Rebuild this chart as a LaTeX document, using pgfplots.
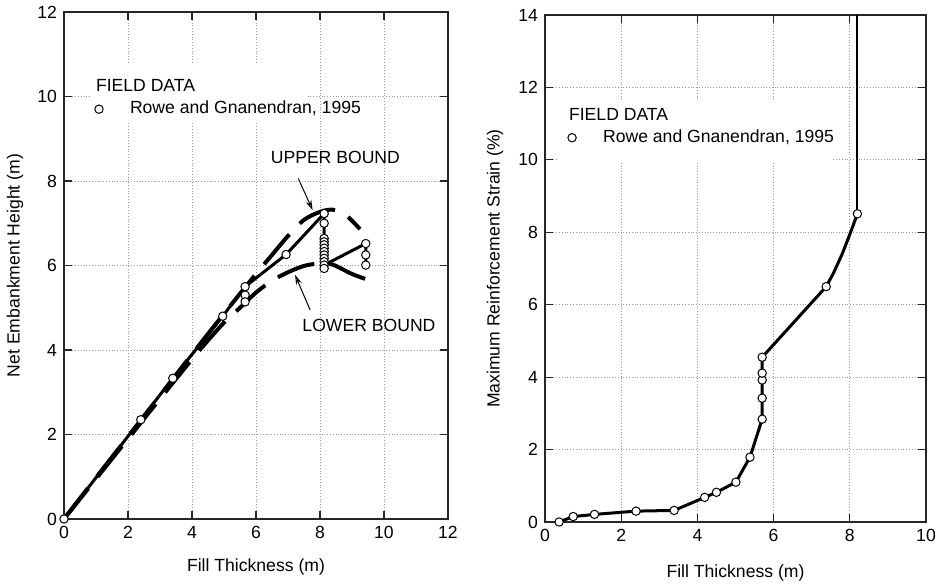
\documentclass[border=0pt]{standalone}
\usepackage{fontspec}
\setmainfont{Liberation Sans}
\usepackage{pgfplots}
\pgfplotsset{compat=1.18}
\usetikzlibrary{arrows.meta}

\pgfplotsset{
 panel/.style={scale only axis,anchor=south west,
  axis line style={black!85,line width=0.6pt},
  tick style={black!85,line width=0.6pt},
  major tick length=4pt,
  grid=major,grid style={densely dotted,black!40,line width=0.45pt},
  /pgf/number format/assume math mode=true,
  ylabel style={anchor=center},xlabel style={anchor=center},
  legend cell align=left,
  legend style={draw=none,fill=none,inner sep=0pt,column sep=13.4pt,row sep=3pt,
   nodes={inner sep=0pt,text height=6.4pt,text depth=1.6pt}},
 },
 bound/.style={black,line width=2pt,dash pattern=on 19.5pt off 7.5pt,smooth},
 data/.style={black,line width=1.5pt},
 circ/.style={only marks,mark=*,mark size=2.1pt,mark options={fill=white,draw=black,line width=0.5pt}},
 circleg/.style={legend image code/.code={\draw[##1] plot coordinates {(0pt,0pt)};}},
}

\begin{document}
\begin{tikzpicture}[font=\fontsize{8.8}{10.5}\selectfont]
\useasboundingbox (0pt,0pt) rectangle (469pt,292.5pt);

\begin{axis}[panel,at={(32pt,33pt)},width=192pt,height=253.5pt,
 xmin=0,xmax=12,ymin=0,ymax=12,xtick={0,2,...,12},ytick={0,2,...,12},
 xlabel={Fill Thickness (m)},ylabel={Net Embankment Height (m)},
 xlabel style={at={(axis description cs:0.5,-0.0947)}},
 ylabel style={at={(axis description cs:-0.1276,0.5)}},
 legend style={at={(axis cs:0.95,10.42)},anchor=north west}]
 \addlegendimage{empty legend}\addlegendentry{\hspace*{-17pt}FIELD DATA}
 \addlegendimage{circ,circleg}
 \addlegendentry{Rowe and Gnanendran, 1995}
 \fill[white] (axis cs:0.81,10.79) rectangle (axis cs:7.6,9.4);
 % field data path
 \addplot[data] coordinates {(0,0) (2.4,2.35) (3.4,3.33) (4.96,4.80) (5.66,5.50) (6.94,6.26)
  (8.13,7.23) (8.13,6.01) (9.43,6.52) (9.43,6.01)};
 \addplot[data] coordinates {(5.66,5.14) (5.66,5.50)};
 \addplot[circ] coordinates {(0,0) (2.4,2.35) (3.4,3.33) (4.96,4.80) (5.66,5.50) (5.66,5.30)
  (5.66,5.14) (6.94,6.26) (8.13,7.23) (8.13,7.00) (8.13,6.64) (8.13,6.56) (8.13,6.49)
  (8.13,6.41) (8.13,6.33) (8.13,6.25) (8.13,6.17) (8.13,6.09) (8.13,6.01) (8.13,5.93)
  (9.43,6.52) (9.43,6.25) (9.43,6.01)};
 % bounds
 \addplot[bound] coordinates {(0,0) (1,0.98) (2,1.95) (3,2.92) (4,3.9) (5,4.86) (6,5.8)
  (6.5,6.25) (7,6.7) (7.5,7.08) (8,7.27) (8.4,7.32) (8.8,7.2) (9.25,6.86)};
 \addplot[bound] coordinates {(0,0) (2,1.9) (4,3.78) (5,4.65) (5.5,5.0) (6,5.36) (6.5,5.64)
  (7,5.84) (7.5,5.99) (8,6.05) (8.4,6.02) (9,5.8) (9.5,5.66)};
 \node at (axis cs:8.48,8.56) {UPPER BOUND};
 \node at (axis cs:9.53,4.59) {LOWER BOUND};
 \draw[-{Stealth[length=5pt,width=3pt,open]},line width=0.5pt] (axis cs:7.32,8.06) -- (axis cs:7.77,7.31);
 \draw[-{Stealth[length=5pt,width=3pt,open]},line width=0.5pt] (axis cs:7.69,4.95) -- (axis cs:7.22,5.78);
\end{axis}

\begin{axis}[panel,at={(272.5pt,31.5pt)},width=190.5pt,height=253.5pt,
 xmin=0,xmax=10,ymin=0,ymax=14,xtick={0,2,...,10},ytick={0,2,...,14},
 xlabel={Fill Thickness (m)},ylabel={Maximum Reinforcement Strain (\%)},
 xlabel style={at={(axis description cs:0.5,-0.1006)}},
 ylabel style={at={(axis description cs:-0.131,0.5)}},
 legend style={at={(axis cs:0.59,11.45)},anchor=north west}]
 \addlegendimage{empty legend}\addlegendentry{\hspace*{-17pt}FIELD DATA}
 \addlegendimage{circ,circleg}
 \addlegendentry{Rowe and Gnanendran, 1995}
 \fill[white] (axis cs:0.31,11.65) rectangle (axis cs:7.55,9.9);
 \addplot[data] coordinates {(0.37,0) (0.74,0.15) (1.30,0.21) (2.39,0.30) (3.39,0.32)
  (4.19,0.68) (4.50,0.82) (5.01,1.10) (5.38,1.79) (5.70,2.84) (5.70,4.55) (7.38,6.50)
  (7.57,6.87) (7.8,7.4) (8.01,7.97) (8.2,8.51)};
 \addplot[black,line width=1pt] coordinates {(8.2,8.51) (8.2,14)};
 \addplot[circ] coordinates {(0.37,0) (0.74,0.15) (1.30,0.21) (2.39,0.30) (3.39,0.32)
  (4.19,0.68) (4.50,0.82) (5.01,1.10) (5.38,1.79) (5.70,2.84) (5.70,3.42) (5.70,3.92)
  (5.70,4.11) (5.70,4.55) (7.38,6.50) (8.2,8.51)};
\end{axis}
\end{tikzpicture}
\end{document}
